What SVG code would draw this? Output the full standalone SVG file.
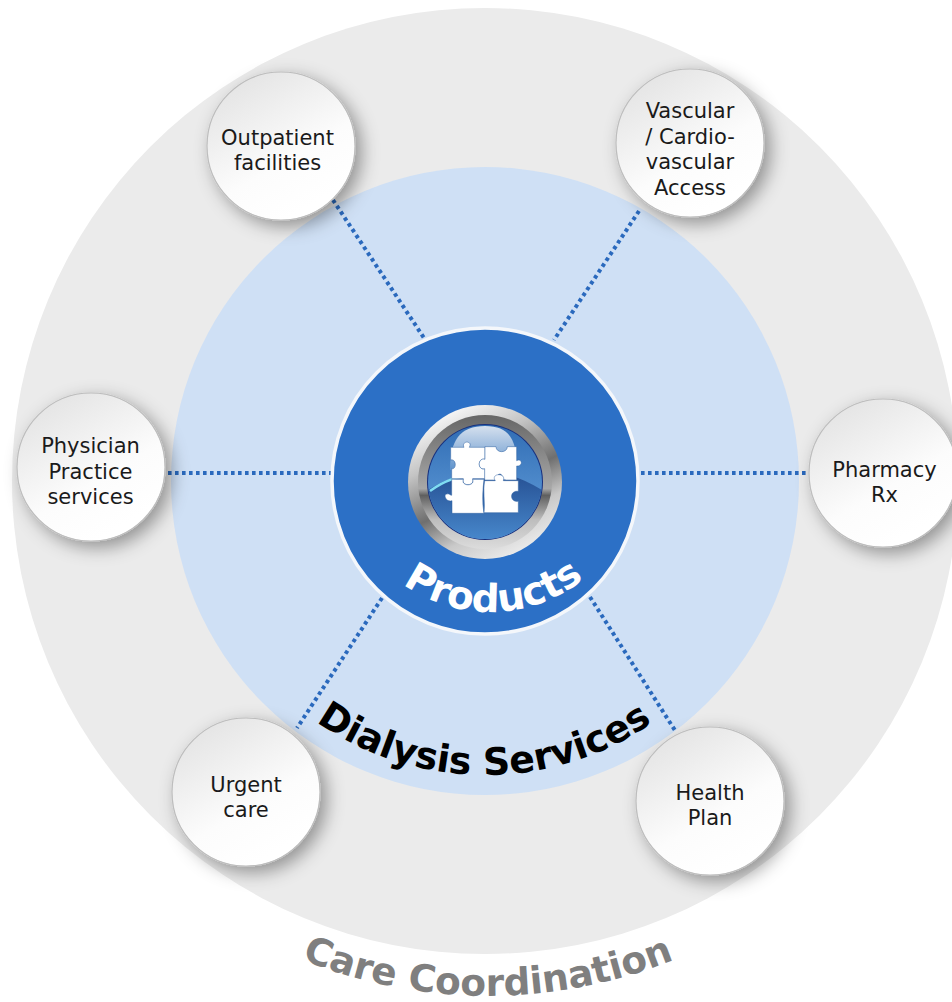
<svg xmlns="http://www.w3.org/2000/svg" width="952" height="1002" viewBox="0 0 952 1002">
<style>
.lbl{font-family:"DejaVu Sans","Liberation Sans",sans-serif;font-size:21px;fill:#1a1a1a;text-anchor:middle}
.arc{font-family:"DejaVu Sans","Liberation Sans",sans-serif;font-weight:bold;text-anchor:middle}
.node{fill:url(#nodeFill);stroke:#bdbdbd;stroke-width:1.2;filter:url(#sh)}
.dot{stroke:#2a69bd;stroke-width:4;stroke-dasharray:3.6 3.4;fill:none}
.pz{fill:#fff;stroke:#2c5f9f;stroke-width:1.5}
</style>
<defs>
<linearGradient id="nodeFill" x1="0.2" y1="0.05" x2="0.7" y2="0.9"><stop offset="0" stop-color="#e4e4e4"/><stop offset="0.65" stop-color="#fcfcfc"/><stop offset="1" stop-color="#ffffff"/></linearGradient>
<filter id="sh" x="-40%" y="-40%" width="190%" height="190%"><feDropShadow dx="6" dy="6" stdDeviation="9" flood-color="#000" flood-opacity="0.38"/></filter>
<linearGradient id="bezel" x1="0.25" y1="0" x2="0.75" y2="1"><stop offset="0" stop-color="#ffffff"/><stop offset="0.28" stop-color="#c4c4c4"/><stop offset="0.55" stop-color="#6f6f6f"/><stop offset="0.75" stop-color="#c9c9c9"/><stop offset="1" stop-color="#f2f2f2"/></linearGradient>
<linearGradient id="bezel2" x1="0" y1="0" x2="0" y2="1"><stop offset="0" stop-color="#666"/><stop offset="0.55" stop-color="#a8a8a8"/><stop offset="0.6" stop-color="#5f5f5f"/><stop offset="0.78" stop-color="#bdbdbd"/><stop offset="1" stop-color="#dcdcdc"/></linearGradient>
<linearGradient id="glass" x1="0" y1="0" x2="0" y2="1"><stop offset="0" stop-color="#2f6bb3"/><stop offset="1" stop-color="#6aa6e0"/></linearGradient>
<linearGradient id="glass2" x1="0" y1="0" x2="0" y2="1"><stop offset="0" stop-color="#254f92"/><stop offset="1" stop-color="#4a8cd0"/></linearGradient>
<linearGradient id="cap" x1="0" y1="0" x2="0" y2="1"><stop offset="0" stop-color="#d5e0ee"/><stop offset="1" stop-color="#5f93cc"/></linearGradient>
<clipPath id="gl"><circle cx="485" cy="482" r="57"/></clipPath>
<path id="pProducts" d="M340 462A150 150 0 0 0 640 462"/>
<path id="pDialysis" d="M191 481A294 294 0 0 0 779 481"/>
<path id="pCare" d="M-8 500A496 496 0 0 0 984 500"/>
</defs>
<circle cx="485" cy="481" r="473" fill="#ebebeb"/>
<circle cx="485" cy="481" r="314" fill="#cfe0f5"/>
<g id="connectors">
<path class="dot" d="M333 200L424 338"/>
<path class="dot" d="M639 211L554 340"/>
<path class="dot" d="M168 473H331"/>
<path class="dot" d="M641 473H810"/>
<path class="dot" d="M382 598L297 728"/>
<path class="dot" d="M590 597L676 732"/>
</g>
<g id="products">
<circle cx="485" cy="481" r="153" fill="#2c70c6" stroke="#f4f7fb" stroke-width="3.5"/>
<circle cx="485" cy="482" r="77" fill="url(#bezel)"/>
<circle cx="485" cy="482" r="67" fill="url(#bezel2)"/>
<circle cx="485" cy="482" r="58" fill="#17307e"/>
<g clip-path="url(#gl)">
<rect x="425" y="422" width="120" height="120" fill="url(#glass)"/>
<path d="M425 492Q485 452 545 492V545H425Z" fill="url(#glass2)"/>
<path d="M430 491Q450 476 480 473" fill="none" stroke="#7fdcf2" stroke-width="2.5"/>
<path d="M450 470C450 440 460 426 485 426C510 426 517 440 517 470Z" fill="url(#cap)"/>
</g>
<g transform="translate(390 390) scale(0.3333)">
<path class="pz" d="M182 172H222C212 152 250 150 238 172H285V208C262 202 262 242 285 236V266H248C256 290 212 290 220 266H185V236C200 240 200 205 182 210Z"/>
<path class="pz" d="M285 170H318C318 190 352 190 352 170H380V212C392 204 402 222 385 228H380V270H350C330 270 342 255 330 252C318 252 326 272 310 270H284V236C262 242 262 202 285 208Z"/>
<path class="pz" d="M185 268H220C212 290 256 290 248 268H282C278 300 276 340 282 370H186V332C170 338 158 315 170 312C178 310 180 316 185 316Z"/>
<path class="pz" d="M284 272H316C300 250 350 246 340 272H385V304C358 300 358 338 385 334V368H282C286 340 278 300 284 272Z"/>
</g>
<text class="arc" font-size="39" fill="#fff"><textPath href="#pProducts" startOffset="50.9%">Products</textPath></text>
</g>
<g id="dialysis-label"><text class="arc" font-size="37.8" fill="#000"><textPath href="#pDialysis" startOffset="49.9%">Dialysis Services</textPath></text></g>
<g id="care-label"><text class="arc" font-size="37.500" fill="#7f7f7f"><textPath href="#pCare" startOffset="50%">Care Coordination</textPath></text></g>
<g id="outpatient"><circle class="node" cx="281" cy="146" r="74"/><text class="lbl" x="277.500" y="145">Outpatient</text><text class="lbl" x="277.500" y="170">facilities</text></g>
<g id="vascular"><circle class="node" cx="690" cy="143" r="74"/><text class="lbl" x="690" y="118">Vascular</text><text class="lbl" x="690" y="144">/ Cardio-</text><text class="lbl" x="690" y="169">vascular</text><text class="lbl" x="690" y="195">Access</text></g>
<g id="physician"><circle class="node" cx="91" cy="467" r="74"/><text class="lbl" x="90.500" y="453">Physician</text><text class="lbl" x="90.500" y="479">Practice</text><text class="lbl" x="90.500" y="504">services</text></g>
<g id="pharmacy"><circle class="node" cx="883" cy="473" r="74"/><text class="lbl" x="884.500" y="477">Pharmacy</text><text class="lbl" x="884.500" y="502">Rx</text></g>
<g id="urgent"><circle class="node" cx="246" cy="792" r="74"/><text class="lbl" x="246" y="792">Urgent</text><text class="lbl" x="246" y="817">care</text></g>
<g id="health"><circle class="node" cx="710" cy="801" r="74"/><text class="lbl" x="710" y="800">Health</text><text class="lbl" x="710" y="825">Plan</text></g>
</svg>
